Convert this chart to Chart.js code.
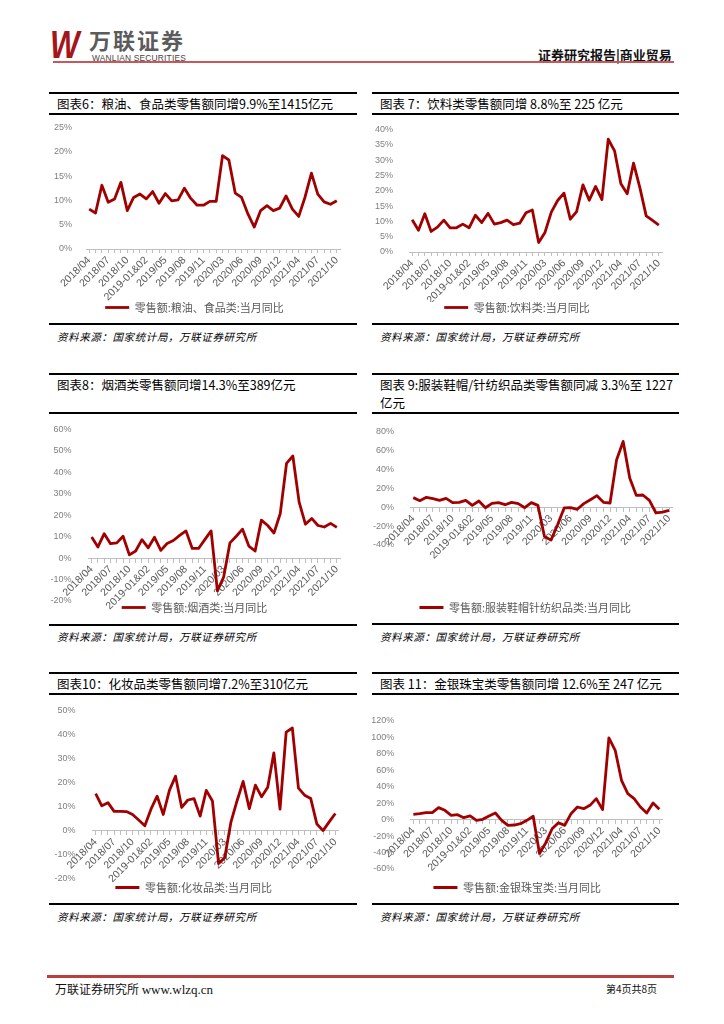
<!DOCTYPE html>
<html>
<head>
<meta charset="utf-8">
<script src="https://cdn.jsdelivr.net/npm/chart.js@4.4.1/dist/chart.umd.min.js"></script>
<style>
  body { margin: 0; background: #fff; }
  #page { position: relative; width: 724px; height: 1024px; overflow: hidden; font-family: "Noto Sans CJK SC", sans-serif; }
  .rule { position: absolute; background: #000; }
  .title { position: absolute; font-size: 12.5px; color: #000; white-space: nowrap; line-height: 18px; }
  .src { position: absolute; font-size: 10.5px; font-style: italic; color: #000; white-space: nowrap; letter-spacing: 0.6px; }
  .box { position: absolute; }
</style>
</head>
<body>
<div id="page">
  <!-- header -->
  <div style="position:absolute;left:50px;top:29px;font:italic bold 38px/32px 'Liberation Sans';color:#a3161c;transform:scaleX(0.82);transform-origin:left top;">W</div>
  <div style="position:absolute;left:89px;top:27px;font-size:22px;line-height:24px;font-weight:bold;color:#5b5b5b;letter-spacing:2px;">万联证券</div>
  <div style="position:absolute;left:92px;top:54px;font:8.4px/9px 'Liberation Sans';color:#444;letter-spacing:0.2px;">WANLIAN SECURITIES</div>
  <div style="position:absolute;left:538px;top:45px;font-size:13px;font-weight:bold;color:#111;">证券研究报告|商业贸易</div>
  <div style="position:absolute;left:53px;top:61px;width:621px;height:2px;background:#c8595a;"></div>

  <!-- chart 6 -->
  <div class="rule" style="left:49px;top:92px;width:308px;height:2px;"></div>
  <div class="title" style="left:57px;top:95px;">图表6：粮油、食品类零售额同增9.9%至1415亿元</div>
  <div class="rule" style="left:49px;top:113px;width:308px;height:2px;"></div>
  <div class="box" id="b6"><canvas id="c6"></canvas></div>
  <div class="rule" style="left:49px;top:323px;width:308px;height:1.5px;"></div>
  <div class="src" style="left:57px;top:329px;">资料来源：国家统计局，万联证券研究所</div>

  <!-- chart 7 -->
  <div class="rule" style="left:372px;top:92px;width:307px;height:2px;"></div>
  <div class="title" style="left:380px;top:95px;">图表 7：饮料类零售额同增 8.8%至 225 亿元</div>
  <div class="rule" style="left:372px;top:113px;width:307px;height:2px;"></div>
  <div class="box" id="b7"><canvas id="c7"></canvas></div>
  <div class="rule" style="left:372px;top:323px;width:307px;height:1.5px;"></div>
  <div class="src" style="left:380px;top:329px;">资料来源：国家统计局，万联证券研究所</div>

  <!-- chart 8 -->
  <div class="rule" style="left:49px;top:373px;width:308px;height:2px;"></div>
  <div class="title" style="left:57px;top:376px;">图表8：烟酒类零售额同增14.3%至389亿元</div>
  <div class="rule" style="left:49px;top:412px;width:308px;height:2px;"></div>
  <div class="box" id="b8"><canvas id="c8"></canvas></div>
  <div class="rule" style="left:49px;top:624px;width:308px;height:1.5px;"></div>
  <div class="src" style="left:57px;top:629px;">资料来源：国家统计局，万联证券研究所</div>

  <!-- chart 9 -->
  <div class="rule" style="left:372px;top:373px;width:307px;height:2px;"></div>
  <div class="title" style="left:380px;top:376px;">图表 9:服装鞋帽/针纺织品类零售额同减 3.3%至 1227<br>亿元</div>
  <div class="rule" style="left:372px;top:412px;width:307px;height:2px;"></div>
  <div class="box" id="b9"><canvas id="c9"></canvas></div>
  <div class="rule" style="left:372px;top:623px;width:307px;height:1.5px;"></div>
  <div class="src" style="left:380px;top:629px;">资料来源：国家统计局，万联证券研究所</div>

  <!-- chart 10 -->
  <div class="rule" style="left:49px;top:672px;width:308px;height:2px;"></div>
  <div class="title" style="left:57px;top:675px;">图表10：化妆品类零售额同增7.2%至310亿元</div>
  <div class="rule" style="left:49px;top:693px;width:308px;height:2px;"></div>
  <div class="box" id="b10"><canvas id="c10"></canvas></div>
  <div class="rule" style="left:49px;top:903px;width:308px;height:1.5px;"></div>
  <div class="src" style="left:57px;top:909px;">资料来源：国家统计局，万联证券研究所</div>

  <!-- chart 11 -->
  <div class="rule" style="left:372px;top:672px;width:307px;height:2px;"></div>
  <div class="title" style="left:380px;top:675px;">图表 11：金银珠宝类零售额同增 12.6%至 247 亿元</div>
  <div class="rule" style="left:372px;top:693px;width:307px;height:2px;"></div>
  <div class="box" id="b11"><canvas id="c11"></canvas></div>
  <div class="rule" style="left:372px;top:903px;width:307px;height:1.5px;"></div>
  <div class="src" style="left:380px;top:909px;">资料来源：国家统计局，万联证券研究所</div>

  <!-- footer -->
  <div style="position:absolute;left:47px;top:975px;width:627px;height:3px;background:#b8403e;"></div>
  <div style="position:absolute;left:55px;top:980px;font-size:12px;color:#111;">万联证券研究所 <span style="font-family:'Liberation Serif';font-size:13px;">www.wlzq.cn</span></div>
  <div style="position:absolute;left:606px;top:981px;font-size:10px;color:#111;">第4页共8页</div>
</div>

<script>
// months: Jan & Feb reported together each year
const months = [
  "2018/04", "2018/05", "2018/06", "2018/07", "2018/08", "2018/09", "2018/10", "2018/11", "2018/12",
  "2019-01&02", "2019/03", "2019/04", "2019/05", "2019/06", "2019/07", "2019/08", "2019/09", "2019/10", "2019/11", "2019/12",
  "2020-01&02", "2020/03", "2020/04", "2020/05", "2020/06", "2020/07", "2020/08", "2020/09", "2020/10", "2020/11", "2020/12",
  "2021-01&02", "2021/03", "2021/04", "2021/05", "2021/06", "2021/07", "2021/08", "2021/09", "2021/10"
];
const tickLabels = ["2018/04", "2018/07", "2018/10", "2019-01&02", "2019/05", "2019/08", "2019/11",
  "2020/03", "2020/06", "2020/09", "2020/12", "2021/04", "2021/07", "2021/10"];

const foodGrowth = [8.2, 7.4, 13.1, 9.6, 10.3, 13.7, 7.9, 10.6, 11.3, 10.3, 11.8, 9.4, 11.4, 9.9, 10.1, 12.5, 10.4, 9.0, 9.0, 9.8,
  9.8, 19.2, 18.3, 11.5, 10.6, 7.2, 4.5, 7.9, 8.9, 7.9, 8.4, 10.9, 8.2, 6.7, 10.7, 15.6, 11.3, 9.7, 9.2, 9.9];
const beverageGrowth = [10.5, 7.1, 12.5, 6.7, 8.1, 10.4, 7.9, 7.9, 9.1, 7.9, 12.0, 9.6, 12.6, 9.1, 9.6, 10.4, 8.9, 9.4, 12.8, 13.7,
  3.1, 6.4, 13.0, 16.8, 19.2, 10.7, 13.2, 21.9, 16.9, 21.4, 17.1, 36.8, 33.0, 22.3, 19.0, 29.0, 21.0, 11.8, 10.3, 8.8];
const tobaccoGrowth = [9.8, 5.2, 11.4, 6.7, 7.1, 10.2, 1.5, 3.3, 8.6, 4.8, 9.7, 3.6, 6.8, 8.2, 10.6, 12.7, 4.5, 4.5, 8.6, 12.7,
  -15.3, -8.8, 7.1, 10.2, 13.5, 5.6, 3.3, 17.7, 15.2, 11.7, 20.8, 44.2, 47.6, 26.1, 15.8, 18.5, 15.2, 14.5, 16.2, 14.3];
const apparelGrowth = [10.3, 7.1, 10.6, 9.2, 7.4, 9.6, 5.0, 5.3, 7.4, 2.1, 6.7, -0.4, 4.2, 5.0, 2.8, 5.3, 3.9, -0.4, 5.0, 2.1,
  -30.9, -34.8, -18.5, -0.6, -0.4, -2.1, 3.9, 8.1, 12.4, 5.3, 4.6, 50.6, 70.0, 31.2, 12.7, 13.1, 7.4, -6.0, -5.0, -3.3];
const cosmeticsGrowth = [15.4, 10.4, 11.7, 8.1, 8.1, 8.0, 6.8, 4.5, 2.1, 9.0, 14.4, 6.8, 16.8, 22.7, 9.7, 12.8, 13.4, 6.1, 16.8, 12.4,
  -13.6, -11.2, 3.5, 12.4, 20.5, 9.2, 19.0, 14.1, 18.1, 32.4, 9.0, 41.0, 42.7, 17.7, 14.8, 13.4, 2.8, 0.1, 3.7, 7.2];
const jewelryGrowth = [6.5, 7.3, 8.5, 8.5, 14.6, 11.4, 5.3, 6.1, 2.4, 4.5, -0.8, 0.4, 4.5, 8.1, -0.8, -6.9, -6.5, -4.9, -0.8, 4.1,
  -41.1, -28.0, -11.0, -3.7, -6.9, 7.3, 15.4, 13.4, 17.4, 25.6, 12.2, 99.4, 84.4, 47.9, 31.6, 25.6, 15.4, 8.1, 20.3, 12.6];

const LINE_RED = "#a00000";
const LEGEND_FONT = 11;

// page-coordinate targets for each panel: canvas box, plot area, legend centre
const panels = [
  { id: 6, values: foodGrowth, label: "零售额:粮油、食品类:当月同比", min: 0, max: 25, step: 5, zero: false,
    box: { left: 49, top: 116, width: 310, bottom: 323 }, area: { left: 86, right: 340, top: 126, bottom: 249 }, gap: 6 },
  { id: 7, values: beverageGrowth, label: "零售额:饮料类:当月同比", min: 0, max: 40, step: 5, zero: false,
    box: { left: 372, top: 116, width: 307, bottom: 323 }, area: { left: 409, right: 662, top: 122, bottom: 252 }, gap: 8 },
  { id: 8, values: tobaccoGrowth, label: "零售额:烟酒类:当月同比", min: -20, max: 60, step: 10, zero: true,
    box: { left: 49, top: 415, width: 310, bottom: 623 }, area: { left: 88.5, right: 340, top: 425, bottom: 601 }, gap: 9 },
  { id: 9, values: apparelGrowth, label: "零售额:服装鞋帽针纺织品类:当月同比", min: -40, max: 80, step: 20, zero: true,
    box: { left: 372, top: 415, width: 307, bottom: 623 }, area: { left: 410, right: 678.5, top: 432, bottom: 545 }, gap: 8 },
  { id: 10, values: cosmeticsGrowth, label: "零售额:化妆品类:当月同比", min: -20, max: 50, step: 10, zero: true,
    box: { left: 49, top: 696, width: 310, bottom: 903 }, area: { left: 92.6, right: 338.4, top: 703, bottom: 879 }, gap: 9 },
  { id: 11, values: jewelryGrowth, label: "零售额:金银珠宝类:当月同比", min: -60, max: 120, step: 20, zero: true,
    box: { left: 372, top: 696, width: 307, bottom: 903 }, area: { left: 410.2, right: 662.5, top: 721, bottom: 869 }, gap: 8 }
];

function drawPanel(p) {
  const holder = document.getElementById("b" + p.id);
  const h = p.box.bottom - p.box.top;
  holder.style.left = p.box.left + "px";
  holder.style.top = p.box.top + "px";
  holder.style.width = p.box.width + "px";
  holder.style.height = h + "px";

  const legendHeight = LEGEND_FONT + 10;
  const legendTop = p.box.bottom - legendHeight;
  const yWidth = p.area.left - p.box.left;
  const padTop = p.area.top - p.box.top;
  const padRight = p.box.left + p.box.width - p.area.right;
  // axis at zero sits inside the plot, so the legend title fills the gap instead
  const spacer = p.zero ? Math.max(legendTop - p.area.bottom, 0) : 0;
  const xHeight = legendTop - p.area.bottom;

  new Chart(document.getElementById("c" + p.id), {
    type: "line",
    data: {
      labels: months,
      datasets: [{
        label: p.label,
        data: p.values,
        borderColor: LINE_RED,
        backgroundColor: LINE_RED,
        borderWidth: 2.8,
        borderJoinStyle: "round",
        pointRadius: 0,
        pointStyle: "line",
        tension: 0
      }]
    },
    options: {
      responsive: true,
      maintainAspectRatio: false,
      animation: false,
      layout: { padding: { top: padTop, left: 0, right: padRight, bottom: 0 } },
      plugins: {
        tooltip: { enabled: false },
        legend: {
          position: "bottom",
          title: {
            display: spacer >= 1,
            text: " ",
            font: { size: 1, lineHeight: 1 },
            padding: { top: Math.max(spacer - 1, 0), bottom: 0 }
          },
          labels: {
            usePointStyle: true,
            pointStyle: "line",
            pointStyleWidth: 24,
            padding: 0,
            color: "#595959",
            font: { family: "Noto Sans CJK SC", size: LEGEND_FONT }
          }
        }
      },
      scales: {
        x: {
          type: "category",
          offset: true,
          position: p.zero ? { y: 0 } : "bottom",
          grid: { display: true, drawOnChartArea: false, drawTicks: true, tickLength: 4, color: "#bfbfbf" },
          border: { display: true, color: "#bfbfbf", width: 1 },
          ticks: {
            autoSkip: false,
            minRotation: 45,
            maxRotation: 45,
            padding: 1,
            color: "#595959",
            font: { family: "Liberation Sans", size: 10.5 },
            callback: function (value) {
              const lab = this.getLabelForValue(value);
              return tickLabels.includes(lab) ? lab : "";
            }
          },
          afterFit: p.zero ? undefined : (scale) => { scale.height = xHeight; }
        },
        y: {
          min: p.min,
          max: p.max,
          grid: { display: false },
          border: { display: false },
          ticks: {
            stepSize: p.step,
            padding: p.gap,
            color: "#7f7f7f",
            font: { family: "Liberation Sans", size: 9 },
            callback: (v) => v + "%"
          },
          afterFit: (scale) => { scale.width = yWidth; }
        }
      }
    }
  });
}

panels.forEach(drawPanel);
</script>
</body>
</html>
